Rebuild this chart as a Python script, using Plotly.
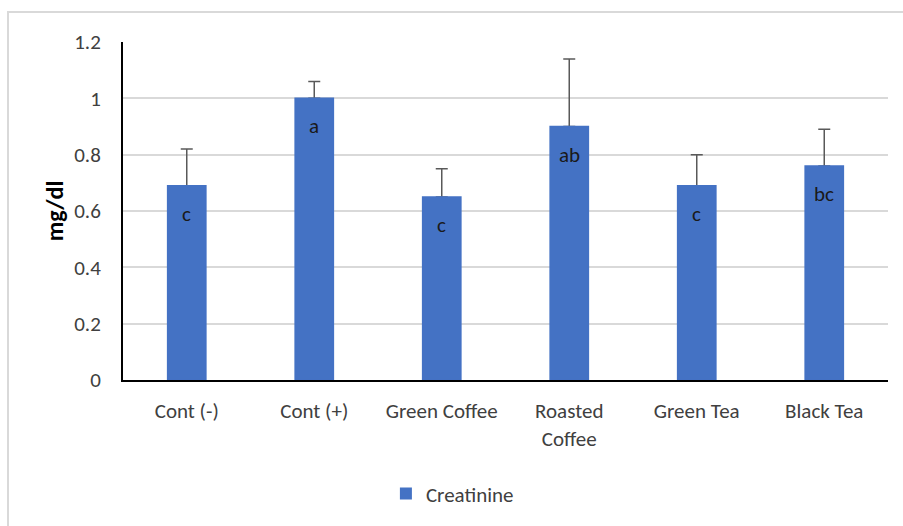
import plotly.graph_objects as go

# Serum creatinine by treatment group
categories = ["Cont (-)", "Cont (+)", "Green Coffee", "Roasted<br>Coffee", "Green Tea", "Black Tea"]
creatinine = [0.69, 1.00, 0.65, 0.90, 0.69, 0.76]
sd_upper = [0.13, 0.06, 0.10, 0.24, 0.11, 0.13]
letters = ["c", "a", "c", "ab", "c", "bc"]
y_ticks = [0, 0.2, 0.4, 0.6, 0.8, 1.0, 1.2]
y_tick_text = ["0", "0.2", "0.4", "0.6", "0.8", "1", "1.2"]

FONT = "Carlito, Calibri, 'Open Sans', sans-serif"
BAR_COLOR = "#4472C4"
TXT = "#404040"

fig = go.Figure()
# bars carrying the upper error bars
fig.add_trace(go.Bar(
    x=categories,
    y=creatinine,
    name="Creatinine",
    width=0.30,
    marker=dict(color=BAR_COLOR, line=dict(width=0)),
    error_y=dict(type="data", array=sd_upper, symmetric=False, arrayminus=[0] * len(sd_upper),
                 color="#595959", thickness=1.5, width=6),
    showlegend=True,
))
# same bars drawn again on top so only the upward whisker is visible
fig.add_trace(go.Bar(
    x=categories,
    y=creatinine,
    name="Creatinine",
    width=0.30,
    marker=dict(color=BAR_COLOR, line=dict(width=1.5, color=BAR_COLOR)),
    showlegend=False,
    hoverinfo="skip",
))

# significance letters just below each bar top
for cat, val, lab in zip(categories, creatinine, letters):
    fig.add_annotation(x=cat, y=val, text=lab, showarrow=False, yanchor="middle", yshift=-28,
                       font=dict(family=FONT, size=21, color="#1a1a1a"))

# light frame around the chart
fig.add_shape(type="rect", xref="paper", yref="paper", x0=-0.1503, x1=1.05, y0=-0.5, y1=1.0888,
              line=dict(color="#d9d9d9", width=2), fillcolor="rgba(0,0,0,0)", layer="below")

fig.update_layout(
    width=903, height=526,
    margin=dict(l=123, r=15, t=42, b=146),
    paper_bgcolor="white", plot_bgcolor="white",
    barmode="overlay",
    font=dict(family=FONT, size=21, color=TXT),
    showlegend=True,
    legend=dict(orientation="h", xref="container", yref="container", x=0.501, y=0.061,
                xanchor="center", yanchor="middle", font=dict(family=FONT, size=21, color=TXT),
                itemwidth=30),
    xaxis=dict(showline=True, linecolor="#000000", linewidth=2, ticks="outside", ticklen=11,
               tickcolor="rgba(0,0,0,0)", tickfont=dict(family=FONT, size=21, color=TXT),
               showgrid=False),
    yaxis=dict(range=[0, 1.2], tickvals=y_ticks, ticktext=y_tick_text, showline=True,
               linecolor="#000000", linewidth=2, gridcolor="#d9d9d9", gridwidth=2,
               ticks="outside", ticklen=16, tickcolor="rgba(0,0,0,0)",
               tickfont=dict(family=FONT, size=21, color=TXT),
               title=dict(text="<b>mg/dl</b>", font=dict(family=FONT, size=24, color="#000000"),
                          standoff=4),
               zeroline=False),
)

fig.write_html("out.html")
